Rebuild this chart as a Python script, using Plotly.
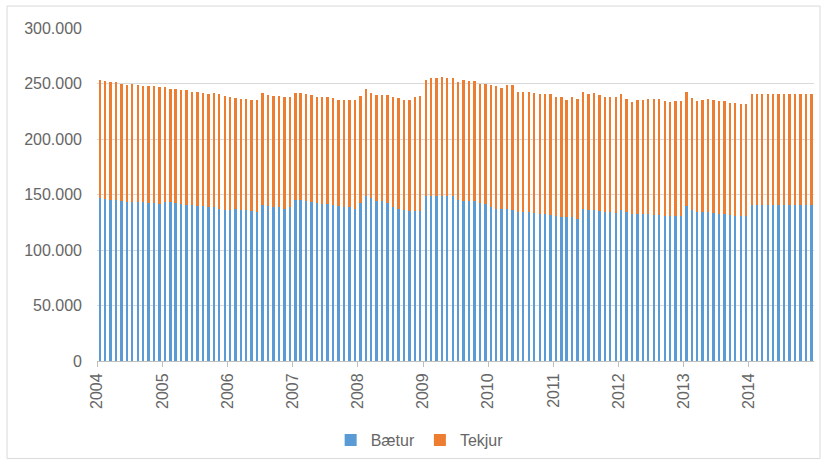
import pandas as pd
import plotly.graph_objects as go

# Monthly values, Jan 2004 - Dec 2014
months = pd.date_range("2004-01-01", periods=132, freq="MS")

baetur = [
    147000, 146100, 145200, 145200, 144000, 143400, 143400, 143400, 143100, 142200, 142200, 141000,
    143400, 143400, 142200, 141000, 140100, 140100, 139200, 139200, 138300, 138300, 137100, 136200,
    136200, 137100, 136200, 136200, 135000, 134100, 140100, 139200, 138300, 138300, 137100, 138300,
    144600, 144600, 144000, 143100, 142200, 141300, 141300, 140100, 139200, 138300, 138300, 137100,
    142200, 148500, 147000, 144000, 144000, 142200, 138300, 137100, 136200, 135300, 135300, 135000,
    148500, 148500, 148500, 148500, 148500, 148500, 144600, 144300, 144000, 144000, 142200, 141000,
    138300, 137100, 137100, 137100, 136200, 134100, 134100, 134100, 133200, 132300, 132300, 131100,
    130200, 129300, 129300, 129300, 127500, 137100, 136200, 135600, 134700, 134100, 134100, 133200,
    136200, 134100, 132300, 132300, 132300, 132300, 131400, 131400, 130200, 130200, 130200, 130200,
    139200, 135600, 134100, 134100, 134100, 133200, 132300, 132300, 131100, 130200, 130200, 130200,
    140100, 140100, 140100, 140100, 140100, 140100, 140100, 140100, 140100, 140100, 140100, 140100,
]

tekjur = [
    106300, 106300, 106000, 106000, 105400, 105100, 106300, 105100, 104500, 105400, 105400, 105700,
    103300, 102100, 103300, 103300, 103600, 102400, 103300, 102400, 102400, 103300, 103600, 102700,
    101800, 99700, 99700, 99700, 99700, 100600, 101500, 100300, 100600, 100600, 100600, 99400,
    97000, 97000, 96700, 96700, 95800, 96700, 96700, 96700, 95500, 96400, 96400, 97600,
    96700, 96100, 94600, 95500, 95500, 97300, 99400, 99400, 98500, 99400, 102400, 103900,
    104500, 106600, 106600, 107500, 106600, 106600, 106900, 108700, 108400, 108100, 107800, 109000,
    110200, 110500, 109300, 111400, 112300, 108400, 108400, 108400, 108400, 108400, 108400, 109600,
    107800, 108700, 105400, 108700, 108100, 105400, 104500, 106000, 104800, 103600, 103600, 104500,
    104500, 101500, 100600, 102400, 102400, 103300, 104200, 104200, 103600, 102700, 103600, 103600,
    103300, 101200, 99700, 100600, 101500, 101500, 101500, 101500, 101500, 102400, 101500, 101500,
    100600, 100600, 100600, 100600, 100600, 100600, 100600, 100600, 100600, 100600, 100600, 100600,
]

series_names = ["Bætur", "Tekjur"]
colors = ["#5B9BD5", "#ED7D31"]
year_ticks = pd.date_range("2004-01-01", periods=11, freq="YS")
year_labels = [str(d.year) for d in year_ticks]

font_family = "Liberation Sans, Arial, sans-serif"
text_color = "#666666"

fig = go.Figure()
for name, vals, col in zip(series_names, [baetur, tekjur], colors):
    fig.add_trace(go.Bar(
        x=months, y=vals, name=name,
        marker=dict(color=col, line=dict(width=0)),
        xperiod="M1", xperiodalignment="middle",
    ))

fig.update_layout(
    barmode="stack",
    bargap=0.55,
    width=827, height=468,
    margin=dict(l=97, r=13, t=28, b=106),
    paper_bgcolor="white", plot_bgcolor="white",
    separators=",.",
    font=dict(family=font_family, size=16, color=text_color),
    showlegend=True,
    legend=dict(orientation="h", x=0.45, xanchor="center", y=-0.234, yanchor="middle",
                font=dict(size=16, color=text_color), traceorder="normal",
                itemwidth=30, itemsizing="constant"),
    shapes=[dict(type="rect", xref="paper", yref="paper",
                 x0=-0.1255, x1=1.0084, y0=-0.293, y1=1.066,
                 line=dict(color="#d9d9d9", width=1), fillcolor="rgba(0,0,0,0)", layer="below")],
)

fig.update_xaxes(
    type="date",
    range=["2004-01-01", "2014-12-31 12:00"],
    tickvals=year_ticks, ticktext=year_labels,
    tickangle=-90,
    ticks="outside", ticklen=5, tickcolor="#bfbfbf",
    showline=True, linecolor="#bfbfbf", linewidth=1,
    showgrid=False,
    tickfont=dict(size=16, color=text_color),
)
fig.update_yaxes(
    range=[0, 300000], dtick=50000, tickformat=",d",
    showgrid=True, gridcolor="#d9d9d9", gridwidth=1,
    zeroline=False, showline=False,
    ticks="", ticklabelstandoff=14,
    tickfont=dict(size=16, color=text_color),
)

fig.write_html("out.html", config={"displayModeBar": False},
               post_script="document.body.style.margin='0';document.body.style.overflow='hidden';")
